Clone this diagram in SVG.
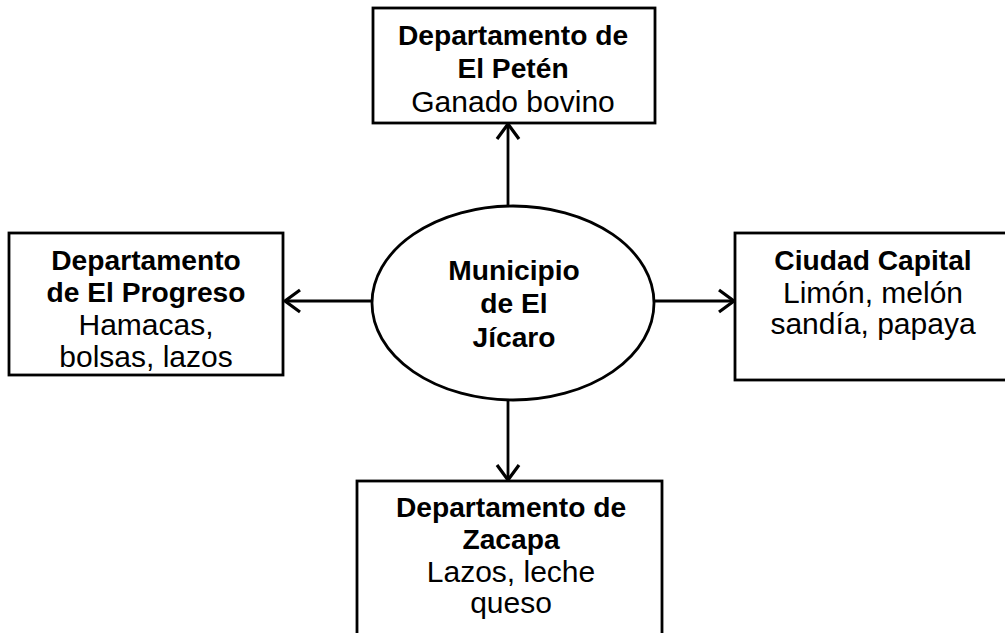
<svg xmlns="http://www.w3.org/2000/svg" width="1005" height="633" viewBox="0 0 1005 633">
<style>
.box{fill:#fff;stroke:#000;stroke-width:2.8}
.b{font-family:"Liberation Sans",Arial,sans-serif;font-weight:bold;font-size:28.2px;text-anchor:middle;fill:#000}
.r{font-family:"Liberation Sans",Arial,sans-serif;font-size:30px;text-anchor:middle;fill:#000}
.c{stroke:#000;stroke-width:2.8;fill:none}
</style>
<defs>
<marker id="ah" markerUnits="userSpaceOnUse" markerWidth="26" markerHeight="26" viewBox="-20 -13 24 26" refX="0" refY="0" orient="auto">
<polyline points="-15,-11 0,0 -15,11" fill="none" stroke="#000" stroke-width="3.2"/>
</marker>
</defs>
<rect width="1005" height="633" fill="#fff"/>
<g id="connectors">
<line class="c" x1="508" y1="207" x2="508" y2="124" marker-end="url(#ah)"/>
<line class="c" x1="372" y1="301" x2="285" y2="301" marker-end="url(#ah)"/>
<line class="c" x1="654" y1="301" x2="734" y2="301" marker-end="url(#ah)"/>
<line class="c" x1="508" y1="400" x2="508" y2="480" marker-end="url(#ah)"/>
</g>
<g id="peten">
<rect class="box" x="373" y="8" width="282" height="115"/>
<text class="b" x="513" y="45">Departamento de</text>
<text class="b" x="513" y="78">El Petén</text>
<text class="r" x="513" y="112">Ganado bovino</text>
</g>
<g id="progreso">
<rect class="box" x="9" y="233" width="274" height="142"/>
<text class="b" x="146" y="270">Departamento</text>
<text class="b" x="146" y="302">de El Progreso</text>
<text class="r" x="146" y="335">Hamacas,</text>
<text class="r" x="146" y="367">bolsas, lazos</text>
</g>
<g id="jicaro">
<ellipse class="box" cx="513" cy="303" rx="141" ry="97"/>
<text class="b" x="514" y="280">Municipio</text>
<text class="b" x="514" y="313">de El</text>
<text class="b" x="514" y="347">Jícaro</text>
</g>
<g id="capital">
<rect class="box" x="735" y="233" width="272" height="147"/>
<text class="b" x="873" y="270">Ciudad Capital</text>
<text class="r" x="873" y="303">Limón, melón</text>
<text class="r" x="873" y="334">sandía, papaya</text>
</g>
<g id="zacapa">
<rect class="box" x="357" y="481" width="305" height="160"/>
<text class="b" x="511" y="517">Departamento de</text>
<text class="b" x="511" y="549">Zacapa</text>
<text class="r" x="511" y="582">Lazos, leche</text>
<text class="r" x="511" y="613">queso</text>
</g>
</svg>
